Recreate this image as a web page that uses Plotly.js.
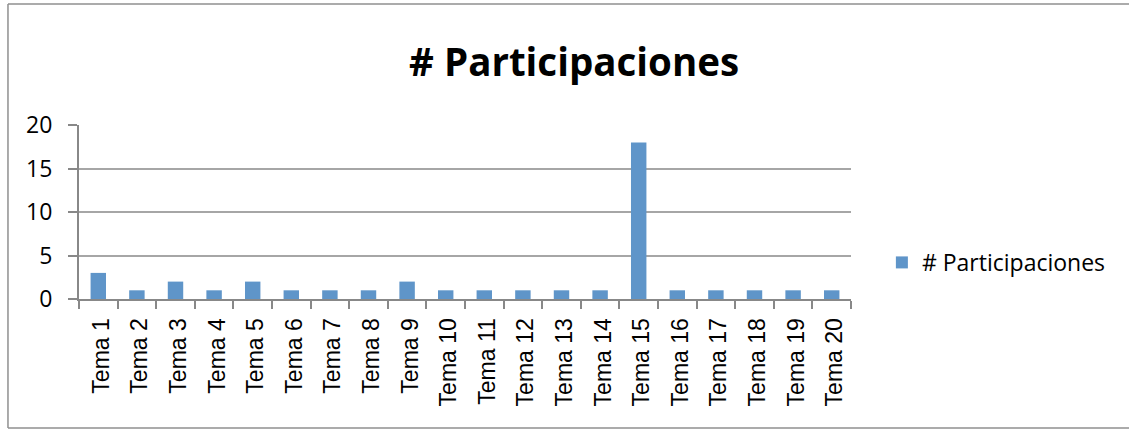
<!DOCTYPE html>
<html>
<head>
<meta charset="utf-8">
<script src="https://cdn.plot.ly/plotly-3.0.1.min.js"></script>
<style>
  html, body { margin: 0; padding: 0; background: #fff; }
  #chart { width: 1129px; height: 429px; }
</style>
</head>
<body>
<div id="chart"></div>
<script>
const categories = ["Tema 1","Tema 2","Tema 3","Tema 4","Tema 5","Tema 6","Tema 7","Tema 8","Tema 9","Tema 10",
                    "Tema 11","Tema 12","Tema 13","Tema 14","Tema 15","Tema 16","Tema 17","Tema 18","Tema 19","Tema 20"];
const participaciones = [3,1,2,1,2,1,1,1,2,1,1,1,1,1,18,1,1,1,1,1];
const seriesName = "# Participaciones";
const yTicks = [0,5,10,15,20];

const trace = {
  type: "bar",
  x: categories,
  y: participaciones,
  name: seriesName,
  marker: { color: "#5f95c9" },
  showlegend: true
};

const borderColor = "#8f8f8f";
const layout = {
  width: 1129,
  height: 429,
  margin: { l: 79, r: 278, t: 125, b: 130 },
  paper_bgcolor: "#ffffff",
  plot_bgcolor: "#ffffff",
  bargap: 0.6,
  title: {
    text: "# Participaciones",
    font: { family: "Open Sans", size: 38.5, color: "#000000", weight: "bold" },
    x: 0.5085, xanchor: "center", xref: "container",
    y: 62, yref: "container", yanchor: "middle"
  },
  xaxis: {
    type: "category",
    tickangle: -90,
    tickson: "boundaries",
    ticks: "outside",
    ticklen: 8,
    tickwidth: 2,
    tickcolor: "#888888",
    showline: true,
    linecolor: "#888888",
    linewidth: 2,
    showgrid: false,
    tickfont: { family: "Liberation Sans, Arial", size: 23, color: "#000000" },
    ticklabelstandoff: 8,
    ticklabelshift: 3,
    fixedrange: true
  },
  yaxis: {
    range: [0, 20],
    tickvals: yTicks,
    ticktext: yTicks.map(String),
    ticks: "outside",
    ticklen: 9,
    tickwidth: 2,
    tickcolor: "#888888",
    showline: true,
    linecolor: "#888888",
    linewidth: 2,
    showgrid: true,
    gridcolor: "#a6a6a6",
    gridwidth: 2,
    zeroline: false,
    tickfont: { family: "Open Sans", size: 23, color: "#000000" },
    ticklabelstandoff: 11,
    fixedrange: true
  },
  legend: {
    x: 1.04, xanchor: "left",
    y: 0.21, yanchor: "middle",
    font: { family: "Open Sans", size: 23, color: "#000000" },
    itemwidth: 30,
    bgcolor: "rgba(0,0,0,0)"
  },
  shapes: [
    { type: "line", xref: "paper", yref: "paper", x0: -0.092, x1: 1.5, y0: 1.695, y1: 1.695, line: { color: borderColor, width: 1.5 } },
    { type: "line", xref: "paper", yref: "paper", x0: -0.092, x1: -0.092, y0: 1.695, y1: -0.741, line: { color: borderColor, width: 1.5 } },
    { type: "line", xref: "paper", yref: "paper", x0: -0.092, x1: 1.5, y0: -0.741, y1: -0.741, line: { color: borderColor, width: 1.5 } }
  ]
};

Plotly.newPlot("chart", [trace], layout, { displayModeBar: false, staticPlot: true });
</script>
</body>
</html>
